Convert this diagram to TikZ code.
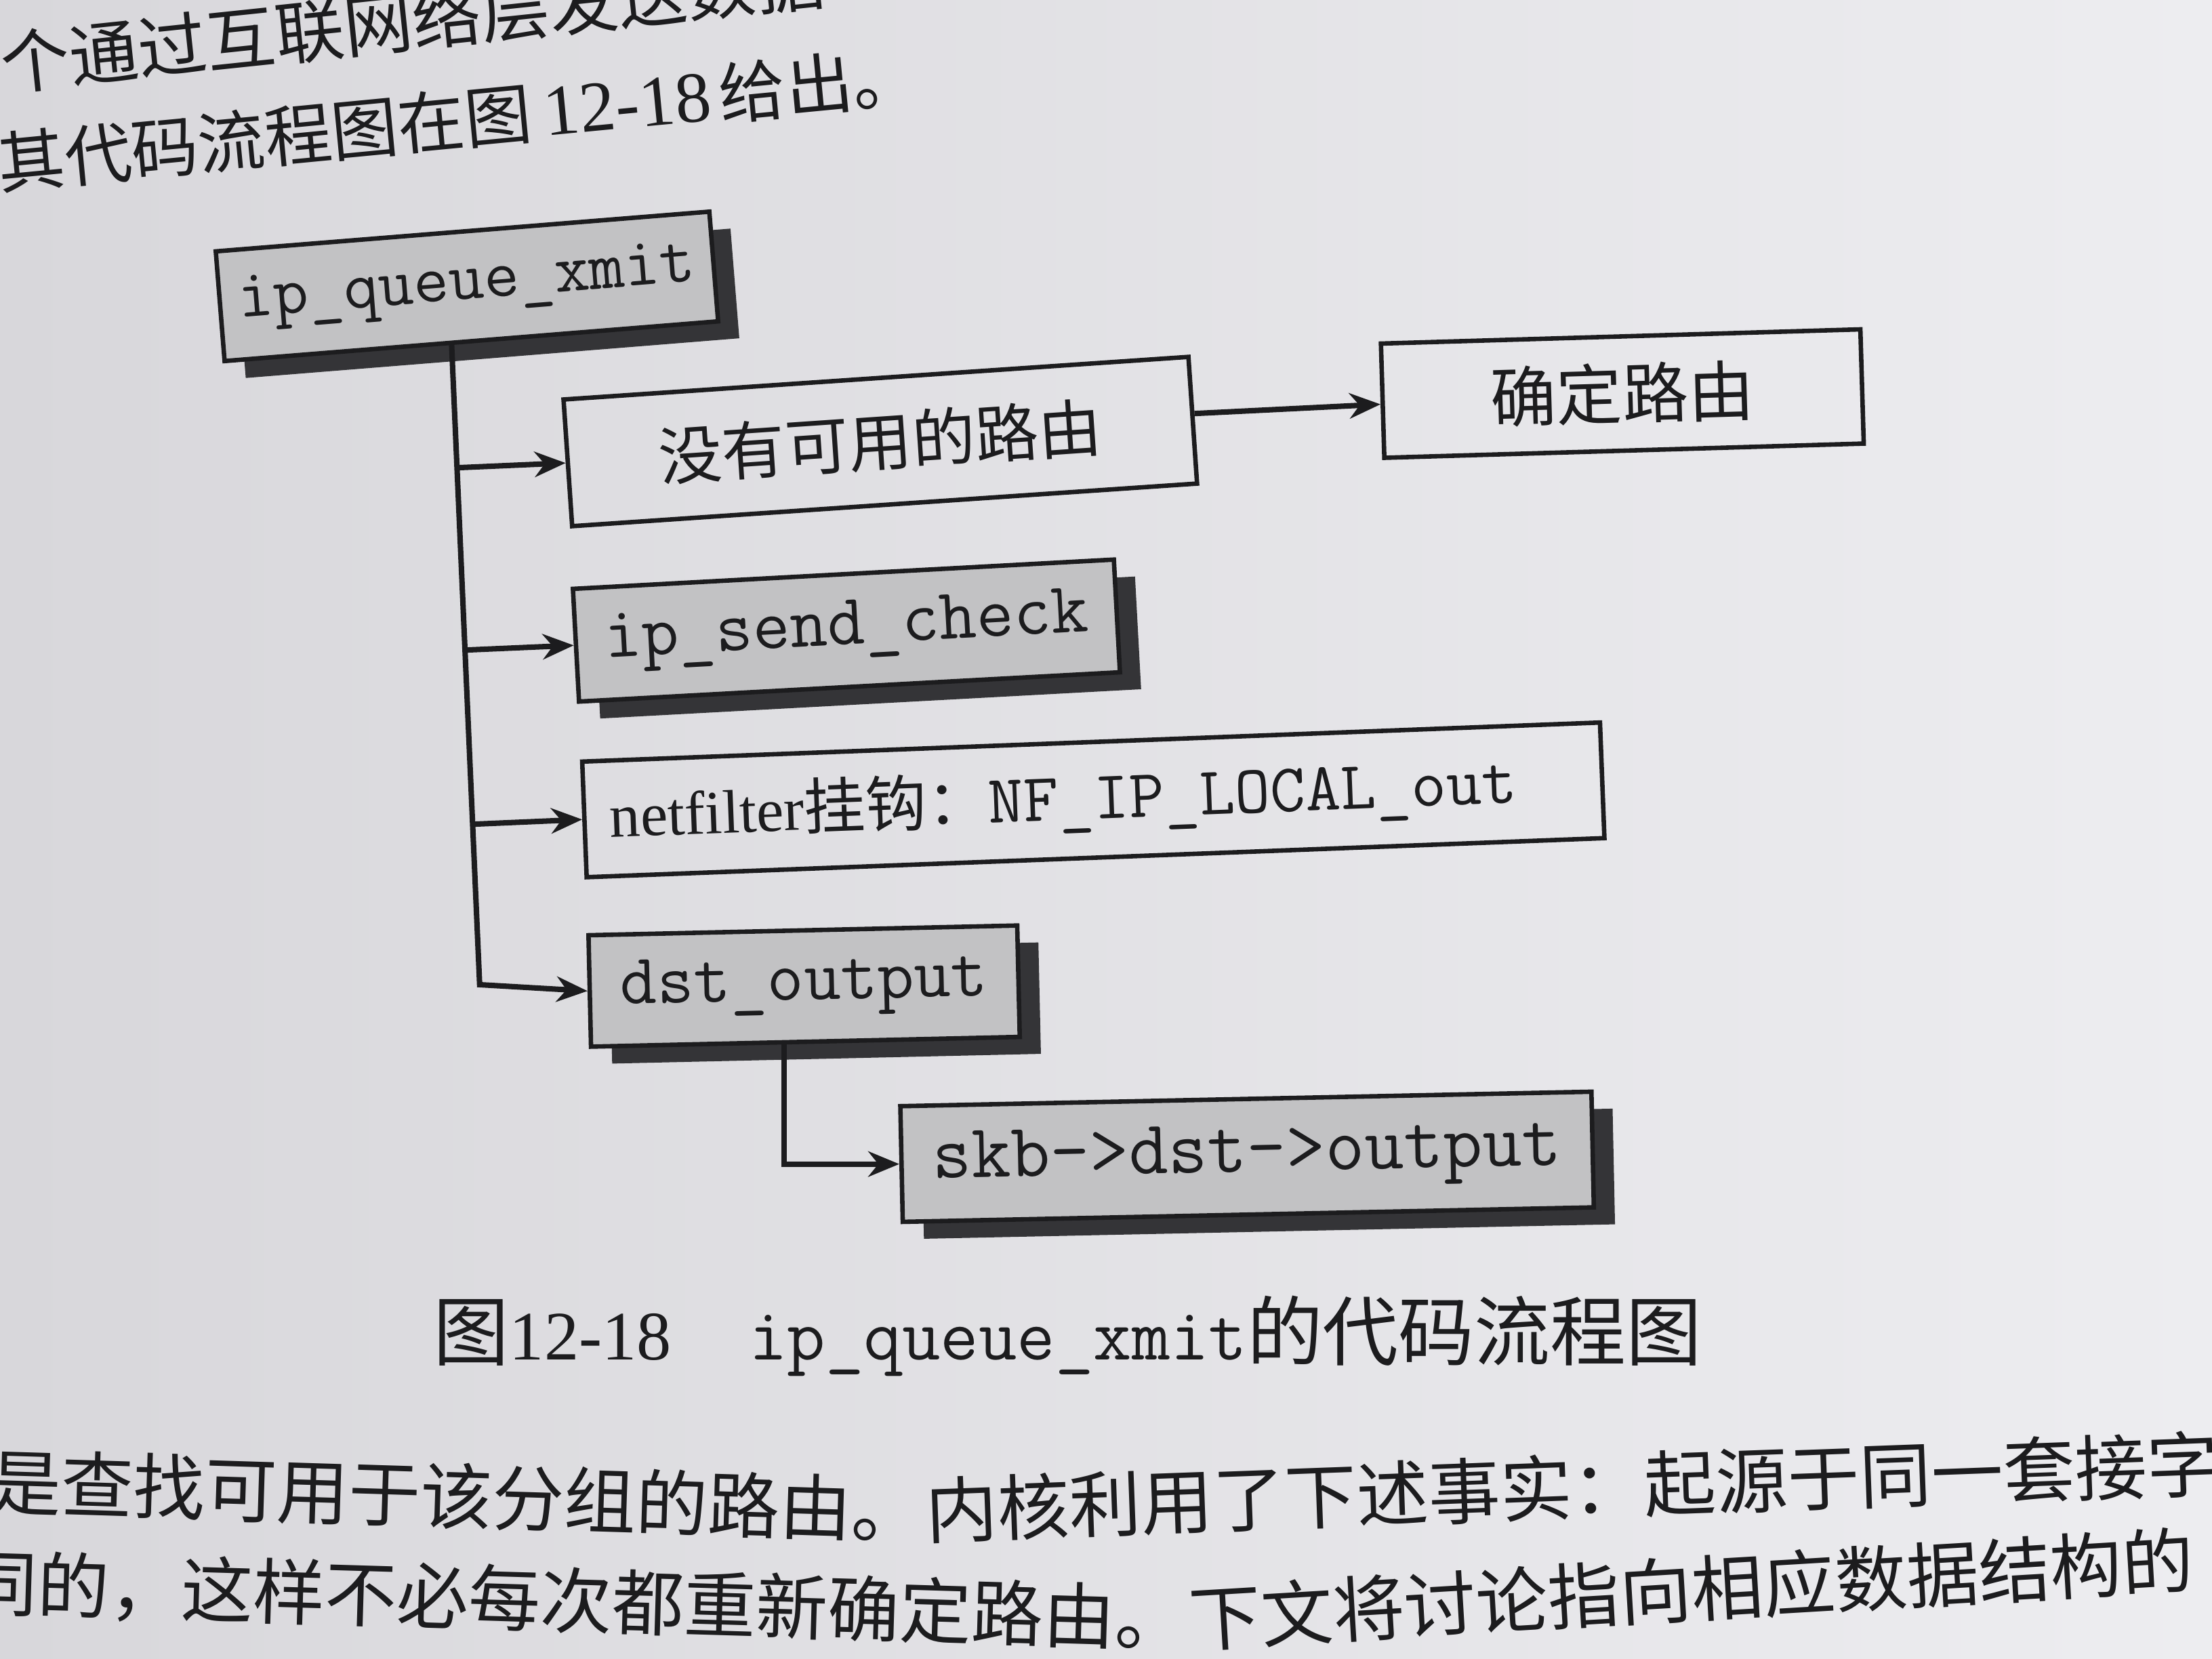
\documentclass[tikz,border=0pt]{standalone}
\usepackage{fontspec}
\setmainfont{Liberation Serif}
\newfontfamily\cjk{Noto Sans CJK SC}
\usepackage{xcolor}
\usetikzlibrary{
  calc,
  shadows,
  arrows.meta
}
\definecolor{paperdark}{RGB}{216,215,219}
\definecolor{paperlight}{RGB}{237,237,240}
\definecolor{boxgray}{RGB}{194,194,196}
\definecolor{shadowgray}{RGB}{52,52,55}
\definecolor{ink}{RGB}{28,28,30}

\begin{document}
\begin{tikzpicture}[>={Stealth[length=2.2mm,width=1.8mm]},
    shadebox/.style={draw=ink, line width=0.9pt, fill=boxgray, inner sep=0pt, text=ink,
      font=\ttfamily\fontsize{14.5}{16}\selectfont,
      drop shadow={shadow xshift=1.5mm, shadow yshift=-1.2mm, fill=shadowgray, opacity=1}},
    plainbox/.style={draw=ink, line width=0.9pt, inner sep=0pt, text=ink,
      font=\cjk\fontsize{12.8}{15}\selectfont},
    pagetext/.style={inner sep=0pt, text=ink, font=\cjk\fontsize{14.5}{17}\selectfont},
    link/.style={draw=ink, line width=1.1pt}]
            \useasboundingbox (0,0) rectangle (15.68,-11.76);
            \clip (0,0) rectangle (15.68,-11.76);
            \fill[left color=paperdark, right color=paperlight] (0,0) rectangle (15.68,-11.76);

            \node[pagetext, anchor=west, rotate=6, font=\cjk\fontsize{13.9}{16}\selectfont] (line1) at (0,-0.45) {个通过互联网络层发送数据};
            \node[pagetext, anchor=west, rotate=5.5, font=\cjk\fontsize{13.5}{16}\selectfont] (line2) at (-0.02,-1.16)
              {其代码流程图在图\hspace{0.09cm}{\rmfamily\fontsize{14.5}{16}\selectfont 12-18}\hspace{0.06cm}给出。};

            \node[shadebox, rotate=4.6, minimum width=3.51cm, minimum height=0.78cm,
              font=\ttfamily\fontsize{13.8}{16}\selectfont] (queue) at (3.31,-2.03) {ip\_queue\_xmit};
            \node[plainbox, rotate=3.9, minimum width=4.44cm, minimum height=0.90cm] (noroute) at (6.24,-3.13) {没有可用的路由};
            \node[plainbox, rotate=1.7, minimum width=3.40cm, minimum height=0.81cm,
              font=\cjk\fontsize{13.3}{15}\selectfont] (findroute) at (11.50,-2.79) {确定路由};
            \node[shadebox, rotate=3.1, minimum width=3.84cm, minimum height=0.80cm,
              font=\ttfamily\fontsize{14.6}{16}\selectfont] (sendcheck) at (6.00,-4.47) {ip\_send\_check};
            \node[plainbox, rotate=2.2, minimum width=7.22cm, minimum height=0.82cm, inner xsep=1.8mm,
              text width=6.86cm, align=left, font=\rmfamily\fontsize{12.4}{15}\selectfont] (hook) at (7.75,-5.67)
              {netfilter{\cjk 挂钩：}{\ttfamily\fontsize{13.8}{15}\selectfont NF\_IP\_LOCAL\_out}};
            \node[shadebox, rotate=1.3, minimum width=3.04cm, minimum height=0.79cm,
              font=\ttfamily\fontsize{14.4}{16}\selectfont] (dstout) at (5.70,-6.99) {dst\_output};
            \node[shadebox, rotate=1.2, minimum width=4.90cm, minimum height=0.82cm,
              font=\ttfamily\fontsize{15.4}{17}\selectfont] (skbout) at (8.84,-8.20) {skb->dst->output};

            \coordinate (trunktop) at ($(queue.south west)!0.46!(queue.south east)$);
            \coordinate (trunkend) at (3.40,-6.98);
            \draw[link,->] (trunktop) -- (trunkend) -- (dstout.west);
            \foreach \target in {noroute,sendcheck,hook}
              \draw[link,->] ($(trunktop)!(\target.west)!(trunkend)$) -- (\target.west);
            \draw[link,->] ($(noroute.north east)!0.45!(noroute.south east)$) -- ($(findroute.north west)!0.53!(findroute.south west)$);
            \draw[link,->] ($(dstout.south west)!0.45!(dstout.south east)$) |- (skbout.west);

            \node[pagetext, font=\cjk\fontsize{15.3}{17}\selectfont] (caption) at (7.57,-9.47)
              {图{\rmfamily\fontsize{14}{17}\selectfont 12-18}\hspace{5.5mm}{\ttfamily\fontsize{15}{17}\selectfont ip\_queue\_xmit}的代码流程图};

            \node[pagetext, anchor=west, rotate=-1.8] (lineA) at (-0.08,-10.50) {是查找可用于该分组的路由。};
            \node[pagetext, anchor=west, rotate=2.1] (lineAend) at (lineA.east) {内核利用了下述事实：起源于同一套接字};
            \node[pagetext, anchor=west, rotate=-1.7] (lineB) at (-0.25,-11.22) {同的，这样不必每次都重新确定路由。};
            \node[pagetext, anchor=west, rotate=3.4] (lineBend) at (lineB.east) {下文将讨论指向相应数据结构的};
        \end{tikzpicture}
\end{document}
